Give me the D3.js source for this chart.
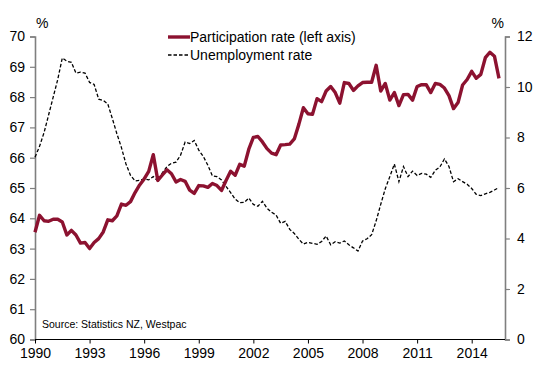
<!DOCTYPE html>
<html><head><meta charset="utf-8">
<script src="https://cdn.jsdelivr.net/npm/d3@7"></script>
<style>body{margin:0;background:#fff}svg{display:block;font-family:"Liberation Sans",Arial,sans-serif}</style>
</head><body><svg id="c" width="535" height="367"></svg>
<script>
const startYear = 1990;
const xTickYears = [1990,1993,1996,1999,2002,2005,2008,2011,2014];
const leftTicks = [60,61,62,63,64,65,66,67,68,69,70];
const rightTicks = [0,2,4,6,8,10,12];
// quarterly observations from 1990 Q1
const participation = [63.54,64.1,63.92,63.9,63.97,63.97,63.88,63.45,63.6,63.45,63.18,63.2,63.0,63.2,63.33,63.55,63.95,63.92,64.08,64.47,64.43,64.55,64.85,65.1,65.3,65.55,66.1,65.25,65.43,65.6,65.47,65.2,65.28,65.22,64.93,64.82,65.08,65.07,65.02,65.15,65.08,64.92,65.25,65.55,65.42,65.78,65.72,66.28,66.67,66.7,66.52,66.3,66.15,66.1,66.42,66.43,66.45,66.62,67.1,67.65,67.45,67.43,67.95,67.85,68.2,68.35,68.15,67.8,68.48,68.45,68.22,68.37,68.48,68.49,68.49,69.05,68.2,68.45,67.9,68.15,67.72,68.08,68.09,67.9,68.35,68.41,68.41,68.15,68.45,68.42,68.3,68.05,67.62,67.82,68.4,68.58,68.85,68.62,68.75,69.3,69.48,69.35,68.62];
const unemployment = [7.22,7.65,8.2,8.9,9.6,10.3,11.15,11.02,10.98,10.55,10.59,10.55,10.18,10.1,9.52,9.47,9.33,8.75,8.15,7.6,6.95,6.5,6.28,6.3,6.36,6.32,6.45,6.28,6.6,6.85,6.98,7.02,7.3,7.82,7.76,7.88,7.5,7.25,6.9,6.48,6.45,6.32,6.06,5.82,5.56,5.42,5.43,5.6,5.35,5.28,5.47,5.2,5.04,4.93,4.6,4.68,4.36,4.2,3.97,3.78,3.85,3.81,3.77,3.88,4.1,3.75,3.87,3.82,3.9,3.75,3.63,3.5,3.9,3.99,4.15,4.7,5.35,5.97,6.45,6.95,6.25,6.85,6.45,6.67,6.5,6.58,6.55,6.42,6.7,6.83,7.15,6.85,6.25,6.37,6.25,6.15,5.98,5.75,5.7,5.77,5.83,5.92,6.02];
const seriesNames = ["Participation rate (left axis)","Unemployment rate"];
const sourceText = "Source: Statistics NZ, Westpac";

const RED = "#8c1230";
const FS = 14;
const svg = d3.select("#c");
const L = 35, R = 505, T = 36.5, B = 339.5;
const x = d3.scaleLinear().domain([1990, 2015.83]).range([L, R]);
const yL = d3.scaleLinear().domain([60, 70]).range([B, T]);
const yR = d3.scaleLinear().domain([0, 12]).range([B, T]);
const qx = i => x(startYear + i * 0.25);

// left axis
const gL = svg.append("g").attr("transform", `translate(${L},0)`)
  .call(d3.axisLeft(yL).tickValues(leftTicks).tickSize(5).tickPadding(5).tickFormat(d3.format("d")));
gL.select(".domain").attr("stroke", "#7f7f7f").attr("stroke-width", 1.6);
gL.selectAll(".tick line").attr("stroke", "#7f7f7f").attr("stroke-width", 1.2);
gL.selectAll("text").attr("font-size", FS).attr("fill", "#000").attr("font-family", "Liberation Sans, Arial");

// right axis
const gR = svg.append("g").attr("transform", `translate(${R},0)`)
  .call(d3.axisRight(yR).tickValues(rightTicks).tickSize(5).tickPadding(7).tickFormat(d3.format("d")));
gR.select(".domain").attr("stroke", "#7f7f7f").attr("stroke-width", 1.6);
gR.selectAll(".tick line").attr("stroke", "#7f7f7f").attr("stroke-width", 1.2);
gR.selectAll("text").attr("font-size", FS).attr("fill", "#000").attr("font-family", "Liberation Sans, Arial");

// bottom axis
const gB = svg.append("g").attr("transform", `translate(0,${B})`)
  .call(d3.axisBottom(x).tickValues(xTickYears).tickSize(4).tickPadding(5).tickFormat(d3.format("d")));
gB.select(".domain").attr("stroke", "#000").attr("stroke-width", 1.2).attr("d", `M${L},0H${R}`);
gB.selectAll(".tick line").attr("stroke", "#000");
gB.selectAll("text").attr("font-size", FS).attr("fill", "#000").attr("font-family", "Liberation Sans, Arial");

// percent labels
svg.append("text").attr("x", 36).attr("y", 28).attr("font-size", FS).text("%");
svg.append("text").attr("x", 504).attr("y", 28).attr("font-size", FS).attr("text-anchor", "end").text("%");

// lines
const lineU = d3.line().x((d, i) => qx(i)).y(d => yR(d));
const lineP = d3.line().x((d, i) => qx(i)).y(d => yL(d));
svg.append("path").datum(unemployment).attr("d", lineU)
  .attr("fill", "none").attr("stroke", "#000").attr("stroke-width", 1.3).attr("stroke-dasharray", "3.5,2");
svg.append("path").datum(participation).attr("d", lineP)
  .attr("fill", "none").attr("stroke", RED).attr("stroke-width", 3.4).attr("stroke-linejoin", "round");

// legend
const lg = svg.append("g");
lg.append("line").attr("x1", 168).attr("x2", 190).attr("y1", 37).attr("y2", 37).attr("stroke", RED).attr("stroke-width", 3.4);
lg.append("text").attr("x", 190).attr("y", 42).attr("font-size", FS).text(seriesNames[0]);
lg.append("line").attr("x1", 168).attr("x2", 190).attr("y1", 55).attr("y2", 55).attr("stroke", "#000").attr("stroke-width", 1.3).attr("stroke-dasharray", "3.5,2");
lg.append("text").attr("x", 190).attr("y", 60).attr("font-size", FS).text(seriesNames[1]);

// source
svg.append("text").attr("x", 42).attr("y", 328).attr("font-size", 10.5).text(sourceText);
</script></body></html>
